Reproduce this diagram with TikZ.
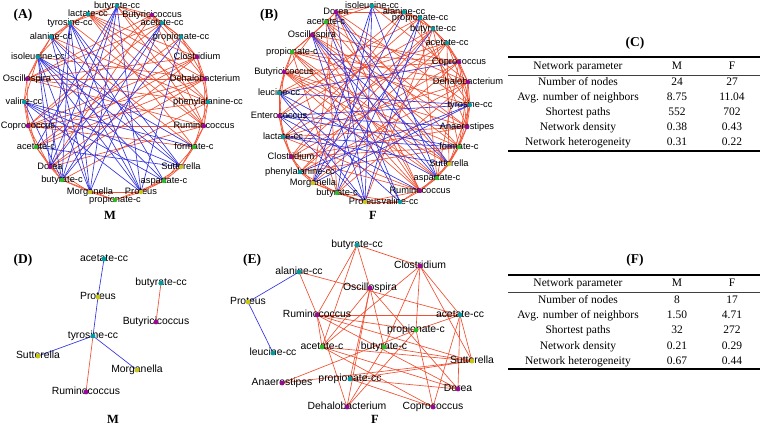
\documentclass[tikz,border=0pt]{standalone}
\usepackage{fontspec}
\setmainfont{Liberation Serif}
\setsansfont{Liberation Sans}
\usetikzlibrary{backgrounds}
\definecolor{edgered}{RGB}{240,80,50}
\definecolor{edgeblue}{RGB}{52,52,226}
\definecolor{nodecc}{RGB}{0,158,160}
\definecolor{nodec}{RGB}{40,190,40}
\definecolor{nodegen}{RGB}{150,10,150}
\definecolor{nodepro}{RGB}{200,200,20}

\tikzset{
  nlab/.style={font=\sffamily\fontsize{9.3}{10}\selectfont, inner sep=0pt, text height=6.8pt, text depth=1.8pt},
  dlab/.style={font=\sffamily\fontsize{10.4}{11}\selectfont, inner sep=0pt, text height=7.5pt, text depth=2pt},
  posedge/.style={edgered, line width=0.65pt},
  negedge/.style={edgeblue, line width=0.65pt},
  panel/.style={font=\bfseries\fontsize{13.5}{15}\selectfont, inner sep=0pt},
  sexlab/.style={font=\bfseries\fontsize{12.5}{14}\selectfont, inner sep=0pt},
  tabtext/.style={font=\fontsize{11.5}{13}\selectfont, inner sep=0pt, text height=8pt, text depth=2.5pt}
}

\begin{document}
\begin{tikzpicture}[x=1pt, y=-1pt]
  \useasboundingbox (0,0) rectangle (760,428);

  % (A) network M
  \foreach \n/\x/\y/\c/\t in {1/117/6/cc/butyrate-cc, 2/152/15/gen/Butyricicoccus,
      3/162/23/cc/acetate-cc, 4/181/37/cc/propionate-cc, 5/197/57/gen/Clostridium,
      6/205/79/gen/Dehalobacterium, 7/208/102/cc/phenylalanine-cc, 8/204/126/gen/Ruminococcus,
      9/194/147/c/formate-c, 10/181/167/pro/Sutterella, 11/164/181/c/aspartate-c,
      12/141/192/pro/Proteus, 13/115/200/c/propionate-c, 14/90/192/pro/Morganella,
      15/62/180/c/butyrate-c, 16/50/167/gen/Dorea, 17/36/147/c/acetate-c,
      18/28/126/gen/Coprococcus, 19/24/102/cc/valine-cc, 20/27/79/gen/Oscillospira,
      21/38/57/cc/isoleucine-cc, 22/51/37/cc/alanine-cc, 23/70/23/cc/tyrosine-cc,
      24/88/14/cc/lactate-cc}
  {
    \node[nlab] (a\n) at (\x,\y) {\t};
    \fill[node\c] (a\n.center) circle (2.2pt);
  }

  % (B) network F
  \foreach \n/\x/\y/\c/\t in {1/372/6/cc/isoleucine-cc, 2/404/12/cc/alanine-cc,
      3/420/18/cc/propionate-cc, 4/433/29/cc/butyrate-cc, 5/447/43/cc/acetate-cc,
      6/459/62/gen/Coprococcus, 7/468/82/gen/Dehalobacterium, 8/470/105/cc/tyrosine-cc,
      9/467/127/gen/Anaerostipes, 10/459/147/c/formate-c, 11/449/164/pro/Sutterella,
      12/437/178/c/aspartate-c, 13/420/191/gen/Ruminococcus, 14/400/202/cc/valine-cc,
      15/365/202/pro/Proteus, 16/337/193/c/butyrate-c, 17/313/183/pro/Morganella,
      18/300/172/cc/phenylalanine-cc, 19/291/157/gen/Clostridium, 20/283/137/cc/lactate-cc,
      21/279/116/gen/Enterococcus, 22/279/93/cc/leucine-cc, 23/284/72/gen/Butyricicoccus,
      24/292/52/c/propionate-c, 25/312/35/gen/Oscillospira, 26/326/22/c/acetate-c,
      27/336/12/gen/Dorea}
  {
    \node[nlab] (b\n) at (\x,\y) {\t};
    \fill[node\c] (b\n.center) circle (2.2pt);
  }

  % (D) network M
  \foreach \n/\x/\y/\c/\t in {1/104/259/cc/acetate-cc, 2/161/283/cc/butyrate-cc,
      3/98/297/pro/Proteus, 4/156/322/gen/Butyricicoccus, 5/93/336/cc/tyrosine-cc,
      6/38/356/pro/Sutterella, 7/137/370/pro/Morganella, 8/86/392/gen/Ruminococcus}
  {
    \node[dlab] (d\n) at (\x,\y) {\t};
    \fill[node\c] (d\n.center) circle (2.4pt);
  }

  % (E) network F
  \foreach \n/\x/\y/\c/\t in {1/299/272/cc/alanine-cc, 2/248/302/pro/Proteus,
      3/273/353/cc/leucine-cc, 4/357/245/cc/butyrate-cc, 5/420/266/gen/Clostridium,
      6/370/288/gen/Oscillospira, 7/317/315/gen/Ruminococcus, 8/460/315/cc/acetate-cc,
      9/416/330/c/propionate-c, 10/322/347/c/acetate-c, 11/384/347/c/butyrate-c,
      12/472/361/pro/Sutterella, 13/282/383/gen/Anaerostipes, 14/350/379/cc/propionate-cc,
      15/458/389/gen/Dorea, 16/347/407/gen/Dehalobacterium, 17/433/407/gen/Coprococcus}
  {
    \node[dlab] (e\n) at (\x,\y) {\t};
    \fill[node\c] (e\n.center) circle (2.4pt);
  }

  % connectors
  \begin{scope}[on background layer]
    \fill[white] (0,0) rectangle (760,428);
    % A
    \foreach \i in {1,...,24} \foreach \k in {1,2} {
      \pgfmathtruncatemacro\j{mod(\i+\k-1,24)+1}
      \draw[posedge] (a\i.center) -- (a\j.center);
    }
    \foreach \i/\j in {8/20,8/18,8/24,8/2,8/16,7/20,7/18,7/24,6/20,6/18,6/17,6/24,6/2,
        5/20,5/18,5/24,5/16,2/20,2/18,2/16,3/18,3/20,4/17,9/18,9/22,
        24/9,23/8,22/7,21/6,1/8,1/7,17/5,16/6,15/7}
      \draw[posedge] (a\i.center) -- (a\j.center);
    \foreach \i/\j in {14/23,14/22,14/21,14/1,14/3,
        12/23,12/22,12/21,12/1,12/19,12/4,
        10/23,10/21,10/19,10/17,10/22,
        11/21,11/19,11/23,
        9/19,9/21,
        1/15,1/16,1/17,
        23/15,23/16,
        19/15,21/15,21/16,
        3/15,3/16,4/15}
      \draw[negedge] (a\i.center) -- (a\j.center);
    % B
    \foreach \i in {1,...,27} \foreach \k in {1,2} {
      \pgfmathtruncatemacro\j{mod(\i+\k-1,27)+1}
      \draw[posedge] (b\i.center) -- (b\j.center);
    }
    \foreach \i/\j in {23/6,23/7,23/9,24/6,24/7,24/8,25/6,25/9,25/10,25/13,
        26/7,26/11,26/13,27/8,27/10,27/13,22/3,22/5,21/4,21/2,
        20/3,20/5,19/2,19/4,19/6,18/4,18/5,18/7,17/6,17/27,
        16/5,16/7,16/26,16/24,13/23,13/24,12/24,11/23,10/23,9/20,
        9/19,10/19,13/19,13/20,3/9,4/10,5/11,6/12,1/7,
        5/8,6/9,7/10,8/11,2/8,3/12,4/15,26/9,24/11,23/12,20/7,18/10}
      \draw[posedge] (b\i.center) -- (b\j.center);
    \foreach \i/\j in {15/25,15/27,15/22,15/21,15/1,15/3,
        14/25,14/26,14/22,
        1/16,1/17,1/12,
        21/8,21/9,21/10,
        22/8,22/12,22/6,
        20/10,20/11,
        8/18,8/17,
        11/27,11/25,
        12/27,12/25,
        17/2,17/4,
        16/3,13/21}
      \draw[negedge] (b\i.center) -- (b\j.center);
    % D
    \foreach \i/\j in {1/3,3/5,5/6,5/7}
      \draw[negedge] (d\i.center) -- (d\j.center);
    \foreach \i/\j in {5/8,2/4}
      \draw[posedge] (d\i.center) -- (d\j.center);
    % E
    \foreach \i/\j in {2/1,2/3}
      \draw[negedge] (e\i.center) -- (e\j.center);
    \foreach \i/\j in {4/5,4/6,4/7,4/10,1/7,1/8,5/10,5/11,5/9,5/8,5/12,
        6/14,6/16,6/15,6/11,6/10,7/8,7/10,7/16,7/15,7/12,7/9,
        8/9,8/12,8/15,8/17,10/12,10/15,10/17,11/16,11/12,
        13/9,13/12,14/12,14/15,14/17,9/16,9/17}
      \draw[posedge] (e\i.center) -- (e\j.center);
  \end{scope}

  % panel letters and group names
  \node[panel] (pA) at (23,15) {(A)};
  \node[panel] (pB) at (269,15) {(B)};
  \node[panel] (pC) at (635,43) {(C)};
  \node[panel] (pD) at (23,260) {(D)};
  \node[panel] (pE) at (252,260) {(E)};
  \node[panel] (pF) at (635,260) {(F)};
  \node[sexlab] (gA) at (110,215) {M};
  \node[sexlab] (gB) at (373,215) {F};
  \node[sexlab] (gD) at (113,419) {M};
  \node[sexlab] (gE) at (375,419) {F};

  % table (C)
  \draw[line width=1.3pt] (508,57) -- (760,57);
  \draw[line width=0.9pt, black!75] (508,75) -- (760,75);
  \draw[line width=1.3pt] (508,151) -- (760,151);
  \foreach \n/\y/\p/\m/\f in {0/67/Network parameter/M/F, 1/83/Number of nodes/24/27,
      2/98/Avg. number of neighbors/8.75/11.04, 3/113/Shortest paths/552/702,
      4/128/Network density/0.38/0.43, 5/143/Network heterogeneity/0.31/0.22}
  {
    \node[tabtext] (cp\n) at (578,\y) {\p};
    \node[tabtext] (cm\n) at (677,\y) {\m};
    \node[tabtext] (cf\n) at (732,\y) {\f};
  }

  % table (F)
  \draw[line width=1.3pt] (508,275) -- (760,275);
  \draw[line width=0.9pt, black!75] (508,292) -- (760,292);
  \draw[line width=1.3pt] (508,369) -- (760,369);
  \foreach \n/\y/\p/\m/\f in {0/284/Network parameter/M/F, 1/301/Number of nodes/8/17,
      2/316/Avg. number of neighbors/1.50/4.71, 3/331/Shortest paths/32/272,
      4/347/Network density/0.21/0.29, 5/362/Network heterogeneity/0.67/0.44}
  {
    \node[tabtext] (fp\n) at (578,\y) {\p};
    \node[tabtext] (fm\n) at (677,\y) {\m};
    \node[tabtext] (ff\n) at (732,\y) {\f};
  }
\end{tikzpicture}
\end{document}
